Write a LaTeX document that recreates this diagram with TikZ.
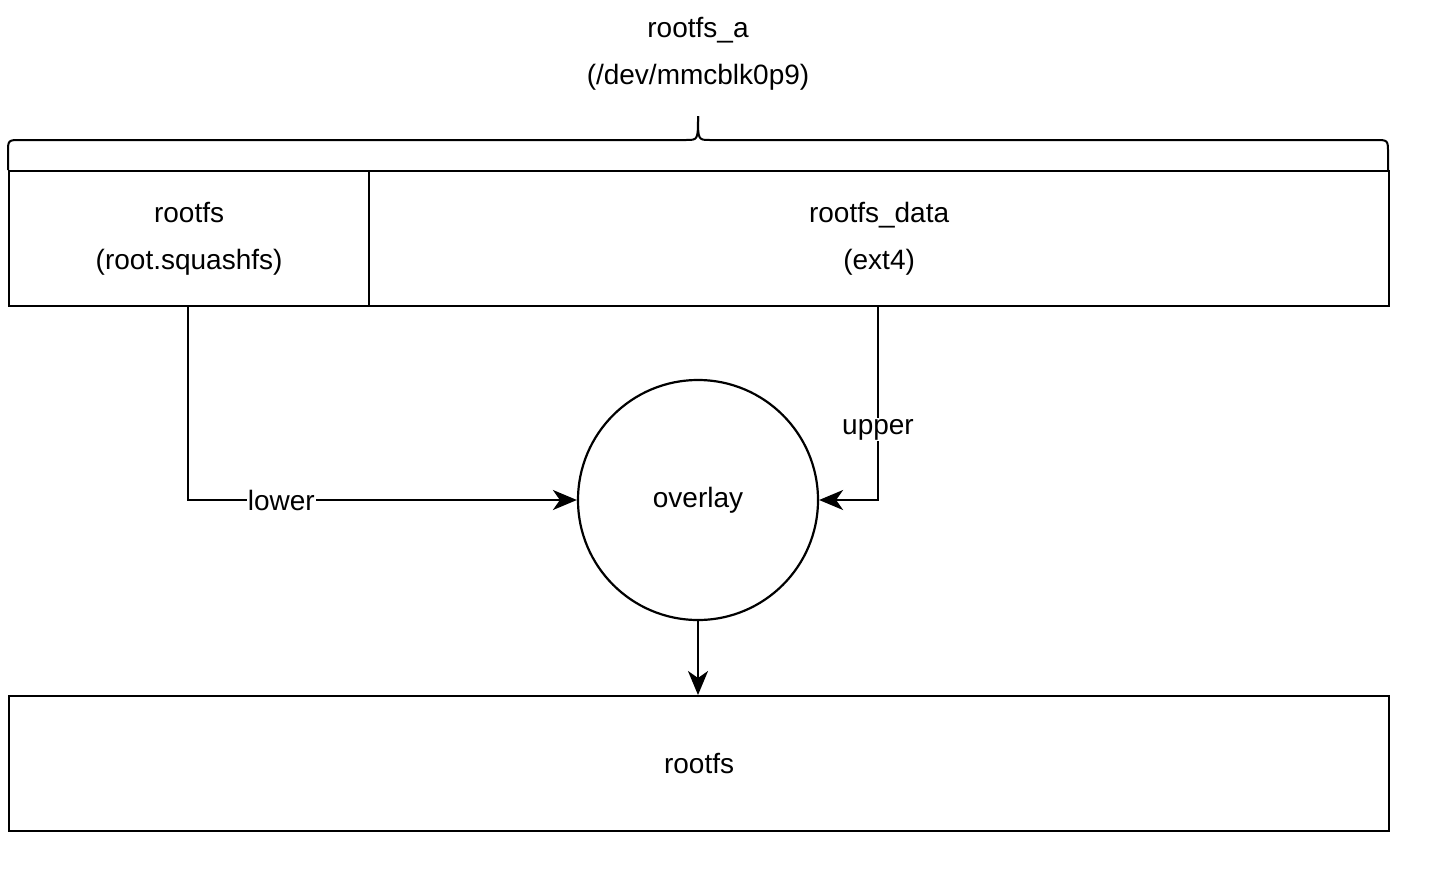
\documentclass[tikz,border=0pt]{standalone}
\usepackage{fontspec}
\setmainfont{Liberation Sans}
\usetikzlibrary{arrows.meta}
\begin{document}
\begin{tikzpicture}[x=1pt,y=-1pt,line width=2.2pt,font=\fontsize{28}{47}\selectfont,
  box/.style={draw,minimum height=135pt,anchor=north west,inner sep=0pt,align=center},
  arr/.style={-{Stealth[length=24pt,width=20pt,inset=7pt]}},
  lbl/.style={fill=white,inner sep=1pt}]
\useasboundingbox (0,0) rectangle (1431,873);
\node[box,minimum width=360pt] (rfs) at (8,170) {rootfs\\(root.squashfs)};
\node[box,minimum width=1020pt] (data) at (368,170) {rootfs\_data\\(ext4)};
\node[box,minimum width=1380pt] (out) at (8,695) {rootfs};
\node[draw,circle,minimum size=240pt,inner sep=0pt] (ov) at (698,500) {overlay};
\node[align=center] (title) at (698,54) {rootfs\_a\\(/dev/mmcblk0p9)};
\draw[line width=2pt] (8,170) -- (8,153) .. controls (8,140) .. (21,140) -- (686,140)
  .. controls (698,140) .. (698,116);
\draw[line width=2pt] (1388,170) -- (1388,153) .. controls (1388,140) .. (1375,140) -- (710,140)
  .. controls (698,140) .. (698,116);
\coordinate (l) at (188,305);
\coordinate (u) at (878,305);
\draw[arr] (l) |- node[pos=0.62,lbl]{lower} (ov.west);
\draw[arr] (u) |- node[pos=0.32,lbl]{upper} (ov.east);
\draw[arr] (ov.south) -- (out.north -| ov.south);
\end{tikzpicture}
\end{document}
